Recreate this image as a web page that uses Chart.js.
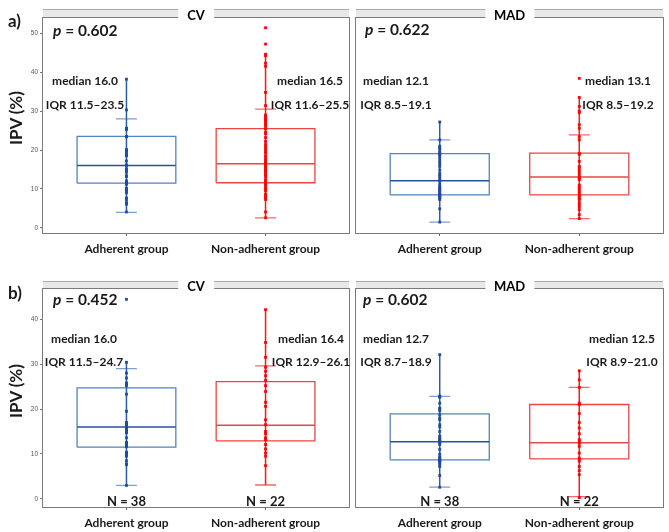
<!DOCTYPE html>
<html>
<head>
<meta charset="utf-8">
<script src="https://cdn.jsdelivr.net/npm/chart.js@4.4.0/dist/chart.umd.min.js"></script>
<style>
body { margin: 0; background: #fff; }
#wrap { position: relative; width: 669px; height: 532px; overflow: hidden; font-family: Lato, "Open Sans", sans-serif; }
canvas { position: absolute; left: 0; top: 0; }
.t { position: absolute; font-weight: bold; white-space: nowrap; line-height: 1; color: #1a1a1a; }
.strip { position: absolute; background: #fff; font-weight: bold; font-size: 13px; text-align: center; line-height: 1; }
</style>
</head>
<body>
<div id="wrap">
  <canvas id="c0" width="669" height="532"></canvas>
  <canvas id="c1" width="669" height="532"></canvas>
  <canvas id="c2" width="669" height="532"></canvas>
  <canvas id="c3" width="669" height="532"></canvas>
</div>
<script>
const categories = ['Adherent group', 'Non-adherent group'];
const rowTicksA = [0, 10, 20, 30, 40, 50];
const rowTicksB = [0, 10, 20, 30, 40];
const pValues = ['0.602', '0.622', '0.452', '0.602'];
const groupN = [38, 22];

// box = [line low, cap low, q1, median, q3, cap high, line high]
const aCvAdhBox = [4.1, 4.0, 11.5, 16.0, 23.5, 28.0, 38.2];
const aCvNonBox = [2.6, 2.6, 11.6, 16.5, 25.5, 30.5, 44.6];
const aMadAdhBox = [1.5, 1.5, 8.5, 12.1, 19.1, 22.6, 27.2];
const aMadNonBox = [2.4, 2.4, 8.5, 13.1, 19.2, 23.9, 33.5];
const bCvAdhBox = [3.0, 3.0, 11.5, 16.0, 24.7, 29.0, 30.4];
const bCvNonBox = [3.1, 3.1, 12.9, 16.4, 26.1, 29.6, 42.1];
const bMadAdhBox = [2.6, 2.6, 8.7, 12.7, 18.9, 22.8, 32.1];
const bMadNonBox = [0.3, 0.5, 8.9, 12.5, 21.0, 24.8, 28.5];

const aCvAdhPts = [38.2, 30.3, 25.6, 25.5, 25.4, 25.3, 23.5, 23.4, 20.1, 20.0, 19.6, 18.9, 18.7, 18.5, 17.2, 16.2, 16.0, 15.2, 14.8, 14.3, 13.4, 13.2, 12.1, 11.7, 11.6, 11.5, 11.4, 11.2, 10.2, 9.8, 9.4, 9.0, 7.7, 7.3, 6.5, 6.3, 6.1, 4.1];
const aCvNonPts = [51.4, 47.2, 44.6, 44.2, 42.3, 41.5, 34.8, 31.4, 29.0, 28.6, 28.2, 27.8, 27.4, 27.0, 26.6, 26.2, 25.5, 24.6, 24.2, 23.2, 22.2, 21.4, 20.9, 20.2, 19.6, 19.2, 18.4, 17.8, 17.3, 16.8, 16.5, 16.2, 15.8, 15.3, 14.9, 14.6, 14.2, 13.7, 13.2, 12.4, 12.0, 11.5, 11.0, 10.4, 9.9, 9.6, 8.7, 8.2, 7.8, 7.3, 4.1, 2.6];
const aMadAdhPts = [27.2, 22.6, 21.0, 20.6, 20.2, 19.6, 19.1, 18.9, 18.8, 18.3, 17.6, 17.0, 16.4, 15.8, 14.9, 14.1, 13.6, 13.2, 12.6, 12.1, 12.0, 11.2, 10.7, 10.3, 10.0, 9.9, 9.6, 9.2, 8.8, 8.6, 8.5, 8.2, 8.0, 7.9, 7.6, 7.3, 4.9, 1.5];
const aMadNonPts = [38.4, 33.5, 31.2, 30.0, 29.6, 26.5, 25.6, 23.4, 22.6, 19.1, 18.9, 17.1, 15.8, 15.4, 14.8, 14.2, 13.6, 13.1, 12.8, 12.4, 11.0, 10.7, 10.2, 9.8, 9.3, 8.8, 8.4, 7.9, 7.5, 7.3, 6.5, 6.0, 5.4, 4.7, 3.4, 2.4];
const bCvAdhPts = [44.4, 30.4, 28.0, 26.9, 25.8, 25.6, 25.5, 25.2, 23.3, 19.5, 17.0, 16.8, 16.6, 16.3, 16.1, 16.0, 15.8, 15.6, 15.4, 15.0, 14.9, 14.7, 13.6, 12.6, 12.4, 12.2, 11.9, 11.8, 11.6, 10.4, 10.2, 10.1, 9.8, 9.5, 8.5, 7.8, 7.6, 3.0];
const bCvNonPts = [42.1, 34.8, 31.5, 29.3, 28.4, 27.4, 26.4, 25.2, 23.9, 21.5, 20.6, 17.6, 16.5, 15.0, 14.5, 13.6, 13.2, 12.1, 11.1, 10.2, 9.5, 7.4];
const bMadAdhPts = [32.1, 22.9, 22.8, 22.6, 21.3, 20.2, 20.0, 19.6, 18.7, 18.0, 17.6, 16.5, 16.0, 15.0, 14.0, 13.6, 13.3, 13.2, 12.9, 12.8, 12.6, 12.5, 12.1, 11.0, 10.0, 9.4, 9.1, 9.0, 8.8, 8.6, 8.5, 8.4, 8.2, 8.0, 7.6, 7.2, 5.2, 2.6];
const bMadNonPts = [28.5, 26.5, 24.8, 21.3, 21.0, 19.0, 17.0, 15.8, 14.5, 13.2, 12.9, 12.4, 11.7, 10.2, 9.1, 8.7, 8.4, 7.2, 6.3, 5.4, 0.3];

const BOX_HALF = 0.355;
const CAP_HALF = 0.075;
const BLUE = { pt: '#1d4d9b', stem: '#2b5ca8', cap: '#7c9fd0', box: '#5582c0', med: '#2a5294' };
const RED = { pt: '#ff0000', stem: '#ff1a1a', cap: '#f26a6a', box: '#ee4444', med: '#e04a4a' };

const panels = [
  { id: 'c0', area: [43, 18, 349, 233], stripTop: 9, yMin: -1.3, yMax: 53.9, ticks: rowTicksA, showY: true, boxes: [aCvAdhBox, aCvNonBox], pts: [aCvAdhPts, aCvNonPts], title: 'CV' },
  { id: 'c1', area: [356, 18, 663, 233], stripTop: 9, yMin: -1.3, yMax: 53.9, ticks: rowTicksA, showY: false, boxes: [aMadAdhBox, aMadNonBox], pts: [aMadAdhPts, aMadNonPts], title: 'MAD' },
  { id: 'c2', area: [43, 289, 349, 507], stripTop: 281, yMin: -1.8, yMax: 46.7, ticks: rowTicksB, showY: true, boxes: [bCvAdhBox, bCvNonBox], pts: [bCvAdhPts, bCvNonPts], title: 'CV' },
  { id: 'c3', area: [356, 289, 663, 507], stripTop: 281, yMin: -1.8, yMax: 46.7, ticks: rowTicksB, showY: false, boxes: [bMadAdhBox, bMadNonBox], pts: [bMadAdhPts, bMadNonPts], title: 'MAD' }
];

function line(data, color, width, order) {
  return { type: 'line', data, borderColor: color, borderWidth: width, pointRadius: 0, fill: false, tension: 0, spanGaps: false, order };
}

function groupSets(box, pts, c, col) {
  const [lo, capLo, q1, med, q3, capHi, hi] = box;
  const h = BOX_HALF, w = CAP_HALF;
  return [
    { type: 'scatter', data: pts.map(v => ({ x: c, y: v })), pointStyle: 'rect', pointRadius: 2, backgroundColor: col.pt, borderWidth: 0, order: 0 },
    line([{ x: c, y: lo }, { x: c, y: hi }], col.stem, 1.5, 1),
    line([{ x: c - w, y: capLo }, { x: c + w, y: capLo }, { x: c, y: null }, { x: c - w, y: capHi }, { x: c + w, y: capHi }], col.cap, 1.3, 2),
    line([{ x: c - h, y: med }, { x: c + h, y: med }], col.med, 1.5, 2),
    line([{ x: c - h, y: q1 }, { x: c + h, y: q1 }, { x: c + h, y: q3 }, { x: c - h, y: q3 }, { x: c - h, y: q1 }], col.box, 1.3, 3)
  ];
}

const framePlugin = {
  id: 'frame',
  beforeDraw(chart, args, opts) {
    const a = chart.chartArea, ctx = chart.ctx;
    ctx.save();
    ctx.fillStyle = '#e8e8e8';
    ctx.fillRect(a.left, opts.stripTop, a.right - a.left, a.top - opts.stripTop);
    ctx.strokeStyle = '#a8a8a8';
    ctx.lineWidth = 1;
    ctx.beginPath();
    ctx.moveTo(a.left, opts.stripTop + 0.5);
    ctx.lineTo(a.right, opts.stripTop + 0.5);
    ctx.stroke();
    ctx.restore();
  },
  afterDraw(chart) {
    const a = chart.chartArea, ctx = chart.ctx;
    ctx.save();
    ctx.strokeStyle = '#7a7a7a';
    ctx.lineWidth = 1;
    ctx.strokeRect(a.left - 0.5, a.top - 0.5, a.right - a.left + 1, a.bottom - a.top + 1);
    ctx.restore();
  }
};

const wrap = document.getElementById('wrap');
function addText(html, x, y, size, align, extra) {
  const d = document.createElement('div');
  d.className = 't';
  d.innerHTML = html;
  d.style.fontSize = size + 'px';
  d.style.left = x + 'px';
  d.style.top = y + 'px';
  const tx = align === 'center' ? '-50%' : '0';
  d.style.transform = 'translate(' + tx + ',-50%)' + (extra || '');
  wrap.appendChild(d);
  return d;
}

// text placement per panel: [p left, p cy, adh label cx, non label cx, median cy, iqr cy]
const textPos = [
  [53, 31, 85, 310, 81, 105],
  [365, 30, 396, 618, 81, 105],
  [53, 300, 84, 311, 339, 362],
  [363, 300, 396, 622, 339, 362]
];

panels.forEach((p, pi) => {
  const [l, t, r, b] = p.area;
  const yw = 14, xh = 22;
  const chart = new Chart(document.getElementById(p.id), {
    type: 'scatter',
    data: { datasets: [...groupSets(p.boxes[0], p.pts[0], 1, BLUE), ...groupSets(p.boxes[1], p.pts[1], 2, RED)] },
    options: {
      responsive: false,
      animation: false,
      layout: { padding: { left: l - yw, top: t, right: 669 - r, bottom: 532 - b - xh } },
      plugins: { legend: { display: false }, tooltip: { enabled: false }, frame: { stripTop: p.stripTop } },
      scales: {
        x: {
          type: 'linear', min: 0.4, max: 2.6,
          afterBuildTicks: s => { s.ticks = categories.map((_, i) => ({ value: i + 1 })); },
          afterFit: s => { s.height = xh; },
          ticks: { callback: v => categories[v - 1] || '', font: { family: 'Lato', weight: 'bold', size: 12 }, color: '#1a1a1a', padding: 6, maxRotation: 0, autoSkip: false },
          grid: { drawOnChartArea: false, tickLength: 3, color: '#666' },
          border: { display: false }
        },
        y: {
          min: p.yMin, max: p.yMax,
          afterBuildTicks: s => { s.ticks = p.ticks.map(v => ({ value: v })); },
          afterFit: s => { s.width = yw; },
          ticks: { display: p.showY, font: { family: 'Liberation Sans', size: 6.5 }, color: '#555', padding: 2 },
          grid: { display: p.showY, drawOnChartArea: false, tickLength: 3, color: '#777' },
          border: { display: false }
        }
      }
    },
    plugins: [framePlugin]
  });

  // strip title with white gap
  const s = document.createElement('div');
  s.className = 'strip';
  s.textContent = p.title;
  s.style.left = ((l + r) / 2) + 'px';
  s.style.top = (p.stripTop + (t - p.stripTop) / 2 + 1) + 'px';
  s.style.padding = '0 9px';
  s.style.transform = 'translate(-50%,-50%)';
  wrap.appendChild(s);

  const tp = textPos[pi];
  addText('<i>p</i> = ' + pValues[pi], tp[0], tp[1], 15.5, 'left');
  p.boxes.forEach((bx, gi) => {
    const cx = tp[2 + gi];
    addText('median ' + bx[3].toFixed(1), cx, tp[4], 12, 'center');
    addText('IQR ' + bx[2].toFixed(1) + '\u2013' + bx[4].toFixed(1), cx, tp[5], 12, 'center');
    if (pi >= 2) {
      addText('N = ' + groupN[gi], chart.scales.x.getPixelForValue(gi + 1), 501, 13, 'center');
    }
  });
});

addText('a)', 8, 20, 17, 'left');
addText('b)', 8, 292, 17, 'left');
addText('IPV (%)', 15, 118, 17, 'center', ' rotate(-90deg)');
addText('IPV (%)', 15, 391, 17, 'center', ' rotate(-90deg)');
</script>
</body>
</html>
